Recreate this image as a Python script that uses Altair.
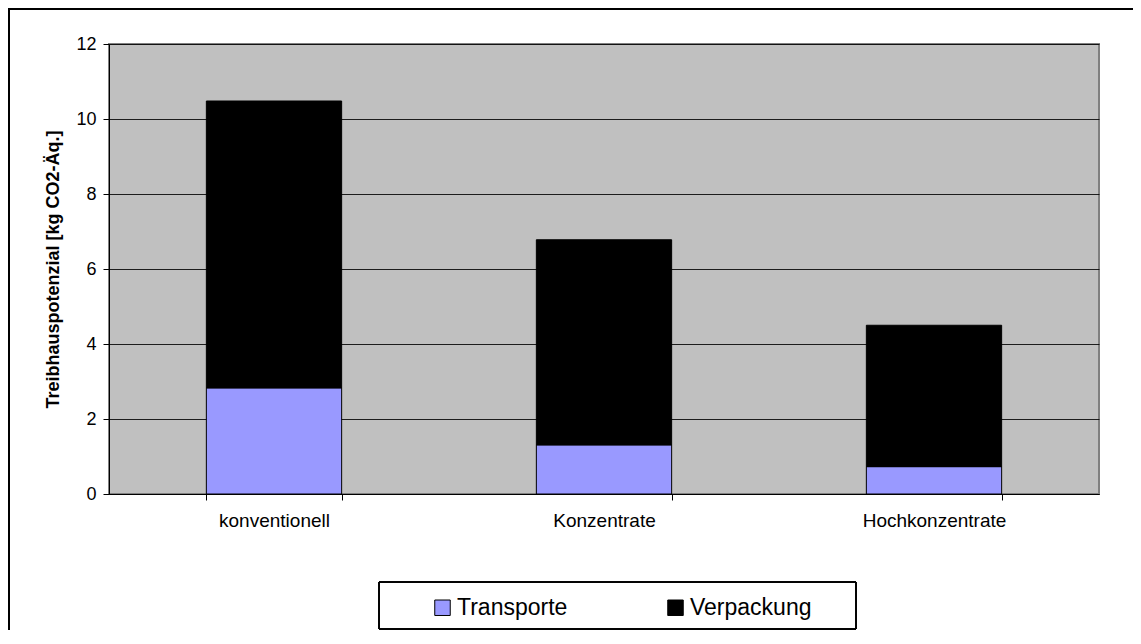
import altair as alt
import pandas as pd

categories = ["konventionell", "Konzentrate", "Hochkonzentrate"]
transporte = [2.83, 1.31, 0.73]
verpackung = [7.65, 5.47, 3.77]
series = ["Transporte", "Verpackung"]
colors = ["#9999FF", "#000000"]
y_ticks = [0, 2, 4, 6, 8, 10, 12]

rows = []
for c, t, v in zip(categories, transporte, verpackung):
    rows.append({"Kategorie": c, "Serie": series[0], "Wert": t, "Ordnung": 0})
    rows.append({"Kategorie": c, "Serie": series[1], "Wert": v, "Ordnung": 1})
df = pd.DataFrame(rows)

FONT = "Liberation Sans"

bars = alt.Chart(df).mark_bar(stroke="#000000", strokeWidth=1).encode(
    x=alt.X(
        "Kategorie:N",
        sort=categories,
        scale=alt.Scale(paddingInner=0.59, paddingOuter=0.295),
        axis=alt.Axis(
            title=None,
            labelAngle=0,
            labelFontSize=19,
            labelFont=FONT,
            labelColor="#000000",
            labelPadding=11,
            tickBand="extent",
            tickSize=6,
            tickColor="#000000",
            domainColor="#000000",
            grid=False,
        ),
    ),
    y=alt.Y(
        "Wert:Q",
        stack="zero",
        scale=alt.Scale(domain=[0, 12], nice=False),
        axis=alt.Axis(
            title="Treibhauspotenzial [kg CO2-Äq.]",
            titleFont=FONT,
            titleFontSize=18,
            titleFontWeight="bold",
            titleColor="#000000",
            titlePadding=13,
            values=y_ticks,
            labelFontSize=18,
            labelFont=FONT,
            labelColor="#000000",
            labelPadding=7,
            tickSize=6,
            tickColor="#000000",
            domainColor="#000000",
            gridColor="#000000",
            gridOpacity=0.85,
        ),
    ),
    color=alt.Color(
        "Serie:N",
        scale=alt.Scale(domain=series, range=colors),
        legend=alt.Legend(
            title=None,
            orient="none",
            direction="horizontal",
            legendX=322,
            legendY=552,
            padding=0,
            symbolType="square",
            symbolSize=240,
            symbolStrokeColor="#000000",
            symbolStrokeWidth=1,
            labelFontSize=23,
            labelFont=FONT,
            labelColor="#000000",
            labelOffset=3,
            columnPadding=96,
        ),
    ),
    order=alt.Order("Ordnung:Q"),
)

legend_box = alt.Chart(df).mark_rect(fill=None, stroke="#000000", strokeWidth=1, clip=False).encode(
    x=alt.value(270), x2=alt.value(747), y=alt.value(538), y2=alt.value(585)
)

border_left = alt.Chart(df).mark_rect(color="#000000", strokeWidth=0, clip=False).encode(
    x=alt.value(-101), x2=alt.value(-99), y=alt.value(-36), y2=alt.value(586)
)
border_top = alt.Chart(df).mark_rect(color="#000000", strokeWidth=0, clip=False).encode(
    x=alt.value(-101), x2=alt.value(1024), y=alt.value(-36), y2=alt.value(-34)
)

chart = alt.layer(bars, legend_box, border_left, border_top).properties(
    width=990,
    height=450,
    autosize=alt.AutoSizeParams(type="none"),
    padding={"left": 101, "top": 36, "right": 34, "bottom": 136},
    background="#FFFFFF",
).configure_view(
    fill="#C0C0C0",
    stroke="#808080",
    strokeWidth=2,
)

chart.save("out.html", embed_options={"renderer": "svg", "actions": False})
